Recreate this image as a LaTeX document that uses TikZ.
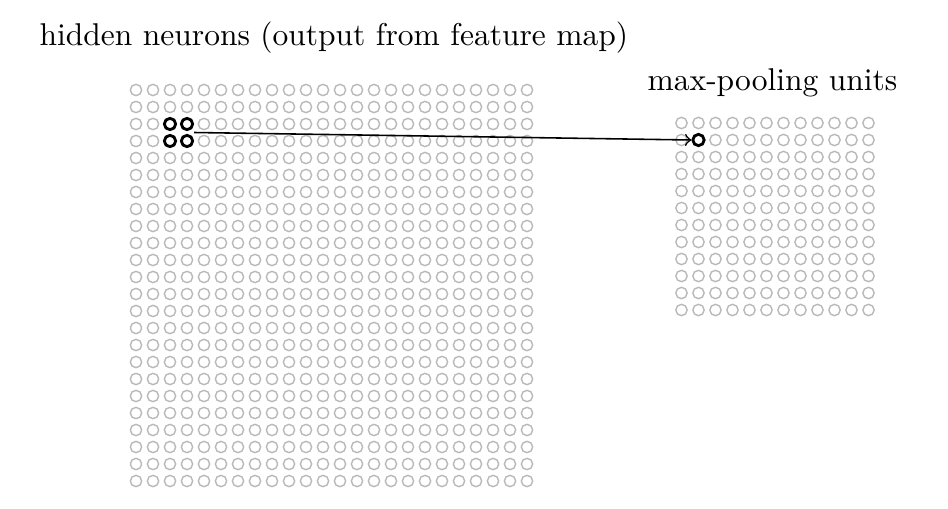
\documentclass[tikz,border=0pt]{standalone}
\usetikzlibrary{calc}
\begin{document}
\begin{tikzpicture}[x=0.3175pt,y=-0.3175pt,
  unit/.style={circle,draw=gray!55,line width=0.45pt,inner sep=0pt,minimum size=3.6pt},
  active/.style={unit,draw=black,line width=0.9pt},
  caption/.style={anchor=base west,inner sep=0pt,font=\normalsize}]
\useasboundingbox (0,0) rectangle (948,508);
% captions
\node[caption] (hlabel) at (39,45) {hidden neurons (output from feature map)};
\node[caption] (plabel) at (647,90) {max-pooling units};
% 24x24 layer of hidden neurons; the 2x2 block being pooled is drawn in black
\foreach \i in {0,...,23}
  \foreach \j in {0,...,23}{
    \pgfmathtruncatemacro{\on}{(\i>1)&&(\i<4)&&(\j>1)&&(\j<4)}
    \ifnum\on=1 \def\sty{active}\else\def\sty{unit}\fi
    \node[\sty] (h-\i-\j) at ({136+17*\i},{90+17*\j}) {};
  }
% 12x12 layer of max-pooling units
\foreach \i in {0,...,11}
  \foreach \j in {0,...,11}{
    \pgfmathtruncatemacro{\on}{(\i==1)&&(\j==1)}
    \ifnum\on=1 \def\sty{active}\else\def\sty{unit}\fi
    \node[\sty] (p-\i-\j) at ({681.5+17*\i},{123+17*\j}) {};
  }
% the pooled block feeds one pooling unit
\coordinate (blockout) at ($(h-3-2.east)!0.5!(h-3-3.east)$);
\draw[->,line width=0.5pt] (blockout) -- (p-1-1.west);
\end{tikzpicture}
\end{document}
